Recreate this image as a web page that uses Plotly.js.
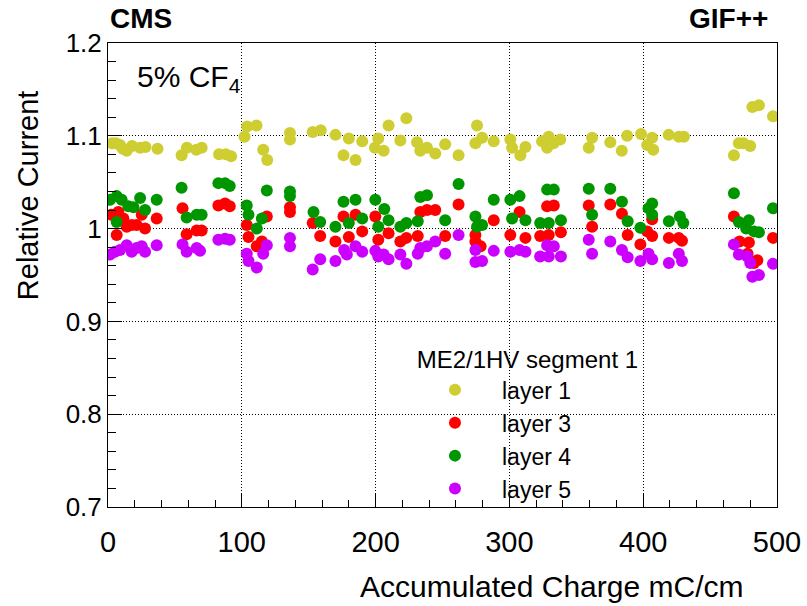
<!DOCTYPE html>
<html>
<head>
<meta charset="utf-8">
<script src="https://cdn.plot.ly/plotly-3.0.1.min.js"></script>
<style>html,body{margin:0;padding:0;background:#fff;}#chart{width:807px;height:606px;}</style>
</head>
<body>
<div id="chart"></div>
<script>
// Layer 1 (yellow)
const layer1X = [3,6,9,11,14,18,24,28,37,55,59,66,70,83,88,92,102,104,111,116,119,136,136,153,159,170,176,180,185,190,199.5,202,206,209.7,218.5,223,231,233.4,238.4,244.6,252,262,274.6,275.8,279.6,288.3,300.7,302,308.2,312,324.4,328.2,329.4,333,338,359.3,361.8,375.4,384,388,398.4,403,406.7,407.5,419,426.6,430.4,467.8,471.5,475,480,481.6,486.5,497];
const layer1Y = [1.092,1.092,1.090,1.086,1.084,1.089,1.087,1.088,1.086,1.079,1.087,1.085,1.087,1.080,1.080,1.078,1.099,1.110,1.111,1.085,1.074,1.103,1.096,1.104,1.106,1.101,1.079,1.097,1.074,1.094,1.087,1.097,1.084,1.111,1.095,1.119,1.093,1.084,1.087,1.081,1.091,1.079,1.092,1.111,1.098,1.094,1.096,1.087,1.079,1.088,1.094,1.087,1.099,1.092,1.096,1.087,1.098,1.093,1.084,1.100,1.102,1.090,1.098,1.085,1.101,1.099,1.099,1.079,1.092,1.092,1.089,1.131,1.133,1.121];

// Layer 3 (red)
const layer3X = [2.7,6.5,7.7,11.5,14,17.7,21.4,25.2,27.7,36.4,55.7,58.8,66.3,70,82.5,87.5,91,103.7,105,111.2,115,118.7,136,136,153,158.6,170,176,180,185,190,199.8,202,209.7,218.5,223,231.5,233.4,238.4,244.6,252,262,274.6,274.6,278.5,288.3,300.7,307.6,312,323,328.2,329.4,333.2,338.5,359.3,361.8,375.4,384.1,388.4,397.9,403,406.7,406.7,419.2,426.6,429,467.8,472,478,479,482.8,485.3,497];
const layer3Y = [1.015,0.993,1.018,1.011,1.002,1.004,1.004,1.015,1.000,1.011,1.022,0.994,0.998,0.998,1.025,1.027,1.024,1.004,0.991,0.981,0.986,1.013,1.023,1.018,1.006,0.992,0.986,1.013,0.991,1.015,0.997,1.013,0.988,0.995,0.986,0.990,0.992,1.018,1.020,1.020,0.992,1.026,0.993,0.986,0.981,1.009,0.993,1.018,0.990,0.992,1.024,0.993,1.025,0.996,1.025,1.002,1.026,1.016,0.993,0.983,0.997,0.992,1.010,0.990,0.990,0.987,1.013,0.986,0.973,0.985,0.963,0.966,0.990];

// Layer 4 (green)
const layer4X = [1.5,6.5,6.5,10.2,15.2,19,24,27.7,36.4,55,58.8,66.3,70,82.5,87.5,91,103.7,105,111.2,115,118.7,136,136,153.6,158.6,170,176,180,185,190,199.8,202,206.5,209.7,218.5,223,231.5,233.4,238.4,252,262,274.6,275.8,279.6,288.3,300.7,302,307.6,312,323,328.2,329.4,333.2,338.5,359.3,361.8,375.4,384.1,388.4,397.9,404,406.7,406.7,419.2,427.4,430,467.8,471.5,477,479,482.8,486.5,497];
const layer4Y = [1.031,1.035,1.007,1.031,1.024,1.023,1.033,1.020,1.031,1.044,1.012,1.015,1.015,1.049,1.049,1.046,1.025,1.015,1.000,1.011,1.041,1.040,1.035,1.018,1.007,1.002,1.029,1.006,1.031,1.011,1.031,1.002,1.021,1.009,1.002,1.006,1.008,1.034,1.036,1.009,1.048,1.013,1.002,1.004,1.031,1.031,1.011,1.035,1.009,1.006,1.042,1.006,1.042,1.009,1.043,1.015,1.043,1.029,1.008,1.001,1.022,1.027,1.015,1.008,1.013,1.006,1.038,1.007,1.000,1.009,0.997,0.996,1.022];

// Layer 5 (purple)
const layer5X = [1.5,5.2,9,14,17.7,21.4,25.2,27.7,36.4,55.7,58.8,66.3,68.8,82.5,87.5,91,103.7,105,111.2,116,118.7,136,136,153,158.6,170,176.5,178.5,185,190,199.8,202,206,209.7,218.5,223,231.5,233.4,238.4,244.6,252,262,274.6,274.6,279.6,288.3,300.7,307.6,312,323,328.2,329.4,333.2,338.5,359.3,361.8,375.4,384.1,388.4,397.9,404,406.7,419.2,426.6,429,467.8,471.5,477.8,480,481.6,486.5,497];
const layer5Y = [0.972,0.975,0.977,0.982,0.975,0.979,0.981,0.975,0.982,0.983,0.975,0.979,0.976,0.988,0.989,0.988,0.973,0.965,0.958,0.973,0.982,0.990,0.981,0.956,0.967,0.965,0.977,0.972,0.981,0.975,0.976,0.970,0.972,0.967,0.972,0.962,0.973,0.979,0.981,0.986,0.973,0.993,0.977,0.964,0.965,0.976,0.975,0.977,0.975,0.970,0.982,0.970,0.981,0.970,0.988,0.973,0.986,0.977,0.969,0.965,0.973,0.967,0.963,0.973,0.965,0.983,0.972,0.970,0.963,0.948,0.950,0.962];

const seriesNames = ['layer 1','layer 3','layer 4','layer 5'];
const seriesColors = ['rgb(206,206,50)','rgb(255,0,0)','rgb(0,150,0)','rgb(204,0,255)'];
const seriesX = [layer1X, layer3X, layer4X, layer5X];
const seriesY = [layer1Y, layer3Y, layer4Y, layer5Y];

const FONT = 'Liberation Sans, Arial, Helvetica, sans-serif';

const data = seriesNames.map((n, i) => ({
  type: 'scatter', mode: 'markers', name: n,
  x: seriesX[i], y: seriesY[i],
  marker: {color: seriesColors[i], size: 12, symbol: 'circle', line: {width: 0}},
  hoverinfo: 'x+y'
}));

const layout = {
  width: 807, height: 606,
  margin: {l: 108, r: 30, t: 43, b: 99},
  paper_bgcolor: '#fff', plot_bgcolor: '#fff',
  font: {family: FONT, color: '#000'},
  showlegend: true,
  xaxis: {
    range: [0, 500], dtick: 100, tick0: 0,
    showline: true, mirror: true, linecolor: '#000', linewidth: 1,
    ticks: 'inside', ticklen: 14, tickcolor: '#000', tickwidth: 1,
    ticklabelstandoff: 9,
    showgrid: true, gridcolor: '#000', gridwidth: 1, griddash: '1px,2px',
    zeroline: false,
    tickfont: {family: FONT, size: 29, color: '#000'},
    minor: {dtick: 20, ticks: 'inside', ticklen: 7, tickcolor: '#000', showgrid: false}
  },
  yaxis: {
    range: [0.7, 1.2], dtick: 0.1, tick0: 0.7,
    showline: true, mirror: true, linecolor: '#000', linewidth: 1,
    ticks: 'inside', ticklen: 14, tickcolor: '#000', tickwidth: 1,
    ticklabelstandoff: 0,
    showgrid: true, gridcolor: '#000', gridwidth: 1, griddash: '1px,2px',
    zeroline: false,
    tickfont: {family: FONT, size: 26, color: '#000'},
    minor: {dtick: 0.02, ticks: 'inside', ticklen: 8, tickcolor: '#000', showgrid: false}
  },
  legend: {
    x: 0.4484, xanchor: 'left', y: 0.366, yanchor: 'top',
    bgcolor: 'rgba(0,0,0,0)', borderwidth: 0,
    font: {family: FONT, size: 23, color: '#000'},
    itemwidth: 84,
    title: {text: '&nbsp;ME2/1HV segment 1', font: {family: FONT, size: 24, color: '#000'}}
  },
  shapes: [{
    type: 'rect', xref: 'paper', yref: 'paper', layer: 'between',
    x0: 0.4484, x1: 0.999, y0: 0.002, y1: 0.375,
    fillcolor: '#fff', line: {width: 0}
  }],
  annotations: [
    {text: '<b>CMS</b>', xref: 'paper', yref: 'paper', x: 0, y: 1.052, xanchor: 'left', yanchor: 'middle', showarrow: false, font: {family: FONT, size: 28, color: '#000'}},
    {text: '<b>GIF++</b>', xref: 'paper', yref: 'paper', x: 0.9895, y: 1.052, xanchor: 'right', yanchor: 'middle', showarrow: false, font: {family: FONT, size: 28, color: '#000'}},
    {text: '5% CF<sub>4</sub>', xref: 'paper', yref: 'paper', x: 0.0404, y: 0.923, xanchor: 'left', yanchor: 'middle', showarrow: false, font: {family: FONT, size: 30, color: '#000'}},
    {text: 'Accumulated Charge mC/cm', xref: 'paper', yref: 'paper', x: 0.952, y: -0.172, xanchor: 'right', yanchor: 'middle', showarrow: false, font: {family: FONT, size: 30, color: '#000'}},
    {text: 'Relative Current', xref: 'paper', yref: 'paper', x: -0.1196, y: 0.672, xanchor: 'center', yanchor: 'middle', textangle: -90, showarrow: false, font: {family: FONT, size: 29, color: '#000'}}
  ]
};

Plotly.newPlot('chart', data, layout, {displayModeBar: false, staticPlot: true});
</script>
</body>
</html>
